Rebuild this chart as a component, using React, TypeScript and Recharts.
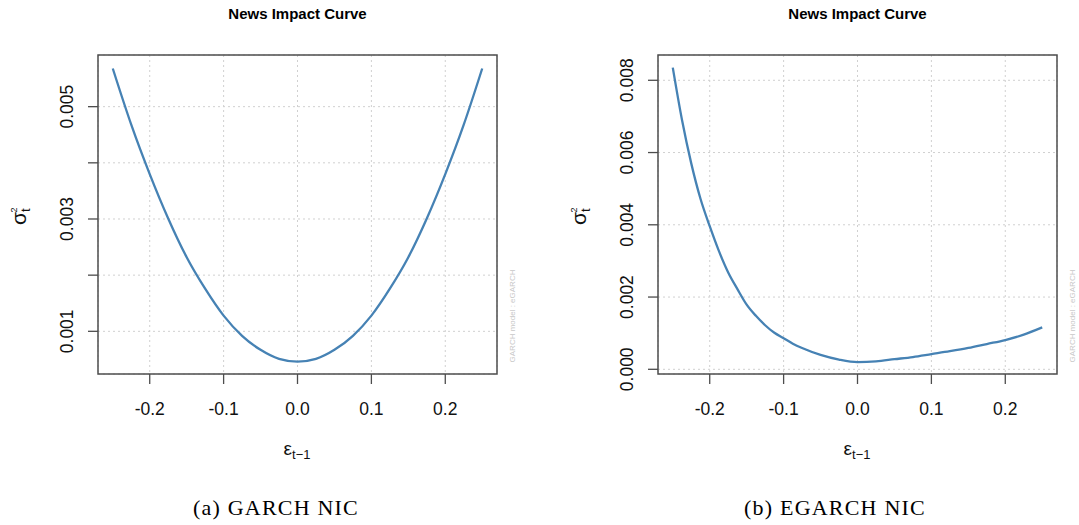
import { LineChart, Line, XAxis, YAxis, CartesianGrid, ReferenceArea } from 'recharts';

// news impact curves
const garchEps = [-0.25, -0.225, -0.2, -0.175, -0.15, -0.125, -0.1, -0.075, -0.05, -0.025, 0, 0.025, 0.05, 0.075, 0.1, 0.125, 0.15, 0.175, 0.2, 0.225, 0.25];
const garchSigma = [0.00568, 0.00468, 0.0038, 0.00301, 0.00232, 0.00176, 0.00128, 0.00092, 0.00067, 0.00051, 0.00046, 0.00051, 0.00067, 0.00092, 0.00128, 0.00176, 0.00232, 0.00301, 0.0038, 0.00468, 0.00568];

const egarchEps = [-0.25, -0.2375, -0.225, -0.2125, -0.2, -0.1875, -0.175, -0.1625, -0.15, -0.1375, -0.125, -0.1125, -0.1, -0.0875, -0.075, -0.05, -0.025, 0, 0.025, 0.05, 0.075, 0.1, 0.125, 0.15, 0.175, 0.2, 0.225, 0.25];
const egarchSigma = [0.00835, 0.0069, 0.0057, 0.00472, 0.00396, 0.00327, 0.00268, 0.00222, 0.00179, 0.00148, 0.00122, 0.00101, 0.00086, 0.00071, 0.00059, 0.0004, 0.00027, 0.0002, 0.00022, 0.00028, 0.00034, 0.00042, 0.0005, 0.00059, 0.0007, 0.00081, 0.00096, 0.00116];

const xTicks = [-0.2, -0.1, 0, 0.1, 0.2];
const garchYTicks = [0.001, 0.002, 0.003, 0.004, 0.005];
const garchYLabels = [0.001, 0.003, 0.005];
const egarchYTicks = [0, 0.002, 0.004, 0.006, 0.008];
const egarchYLabels = [0, 0.002, 0.004, 0.006, 0.008];

const plotTitle = 'News Impact Curve';
const captions = ['(a) GARCH NIC', '(b) EGARCH NIC'];
const watermark = 'GARCH model : eGARCH';

const SANS = '"Liberation Sans", Arial, Helvetica, sans-serif';
const SERIF = '"Liberation Serif", "Times New Roman", serif';
const X_DOMAIN: [number, number] = [-0.27, 0.27];

function Panel({ eps, sigma, yDomain, yTicks, yLabels, left }: any) {
  const data = eps.map((e: number, i: number) => ({ eps: e, sigma: sigma[i] }));

  const XTick = (props: any) => (
    <text x={props.x} y={415} textAnchor="middle" fontSize={17.5} fontFamily={SANS} fill="#111">
      {props.payload.value.toFixed(1)}
    </text>
  );

  const YTick = (props: any) => {
    const v = props.payload.value;
    if (!yLabels.some((l: number) => Math.abs(l - v) < 1e-9)) return <g />;
    return (
      <text transform={`translate(73, ${props.y}) rotate(-90)`} textAnchor="middle" fontSize={17.5} fontFamily={SANS} fill="#111">
        {v.toFixed(3)}
      </text>
    );
  };

  return (
    <div style={{ position: 'absolute', left, top: 0 }}>
      <LineChart width={560} height={470} data={data} margin={{ top: 55, right: 63, bottom: 0, left: 38 }}>
        <CartesianGrid strokeDasharray="2 3" stroke="#d0d0d0" />
        <XAxis
          dataKey="eps"
          type="number"
          domain={X_DOMAIN}
          ticks={xTicks}
          height={96}
          tickSize={10}
          axisLine={false}
          tickLine={{ stroke: '#4d4d4d', strokeWidth: 1.3 }}
          tick={<XTick />}
          allowDataOverflow
          label={{
            content: () => (
              <text x={297} y={455} textAnchor="middle" fontFamily={SANS} fill="#111" fontSize={19}>
                ε<tspan fontSize={13} dy={4}>t−1</tspan>
              </text>
            ),
          }}
        />
        <YAxis
          type="number"
          domain={yDomain}
          ticks={yTicks}
          width={60}
          tickSize={10}
          axisLine={false}
          tickLine={{ stroke: '#4d4d4d', strokeWidth: 1.3 }}
          tick={<YTick />}
          allowDataOverflow
          label={{
            content: () => (
              <text transform="translate(26, 225) rotate(-90)" textAnchor="start" fontFamily={SANS} fill="#111" fontSize={21}>
                σ<tspan fontSize={13} dy={4}>t</tspan>
                <tspan fontSize={9} dx={-4} dy={-13}>2</tspan>
              </text>
            ),
          }}
        />
        <ReferenceArea x1={X_DOMAIN[0]} x2={X_DOMAIN[1]} y1={yDomain[0]} y2={yDomain[1]} fill="none" stroke="#4d4d4d" strokeWidth={1.5} ifOverflow="visible" />
        <Line type="monotone" dataKey="sigma" stroke="#4682b4" strokeWidth={2.3} dot={false} isAnimationActive={false} />
      </LineChart>
    </div>
  );
}

export default function App() {
  return (
    <div style={{ position: 'absolute', left: 0, top: 0, width: 1079, height: 525, background: '#fff' }}>
      <Panel eps={garchEps} sigma={garchSigma} yDomain={[0.00024, 0.00592]} yTicks={garchYTicks} yLabels={garchYLabels} left={0} />
      <Panel eps={egarchEps} sigma={egarchSigma} yDomain={[-0.00013, 0.0087]} yTicks={egarchYTicks} yLabels={egarchYLabels} left={560} />
      <svg width={1079} height={525} style={{ position: 'absolute', left: 0, top: 0, pointerEvents: 'none' }}>
        <text x={297.5} y={19} textAnchor="middle" fontFamily={SANS} fontWeight="bold" fontSize={15} fill="#000">{plotTitle}</text>
        <text x={857.5} y={19} textAnchor="middle" fontFamily={SANS} fontWeight="bold" fontSize={15} fill="#000">{plotTitle}</text>
        <text transform="translate(515, 316) rotate(-90)" textAnchor="middle" fontFamily={SANS} fontSize={8} fill="#c8c8c8">{watermark}</text>
        <text transform="translate(1075, 316) rotate(-90)" textAnchor="middle" fontFamily={SANS} fontSize={8} fill="#c8c8c8">{watermark}</text>
        <text x={276} y={515} textAnchor="middle" fontFamily={SERIF} fontSize={22} letterSpacing={1.2} fill="#000">{captions[0]}</text>
        <text x={835} y={515} textAnchor="middle" fontFamily={SERIF} fontSize={22} letterSpacing={1.2} fill="#000">{captions[1]}</text>
      </svg>
    </div>
  );
}
